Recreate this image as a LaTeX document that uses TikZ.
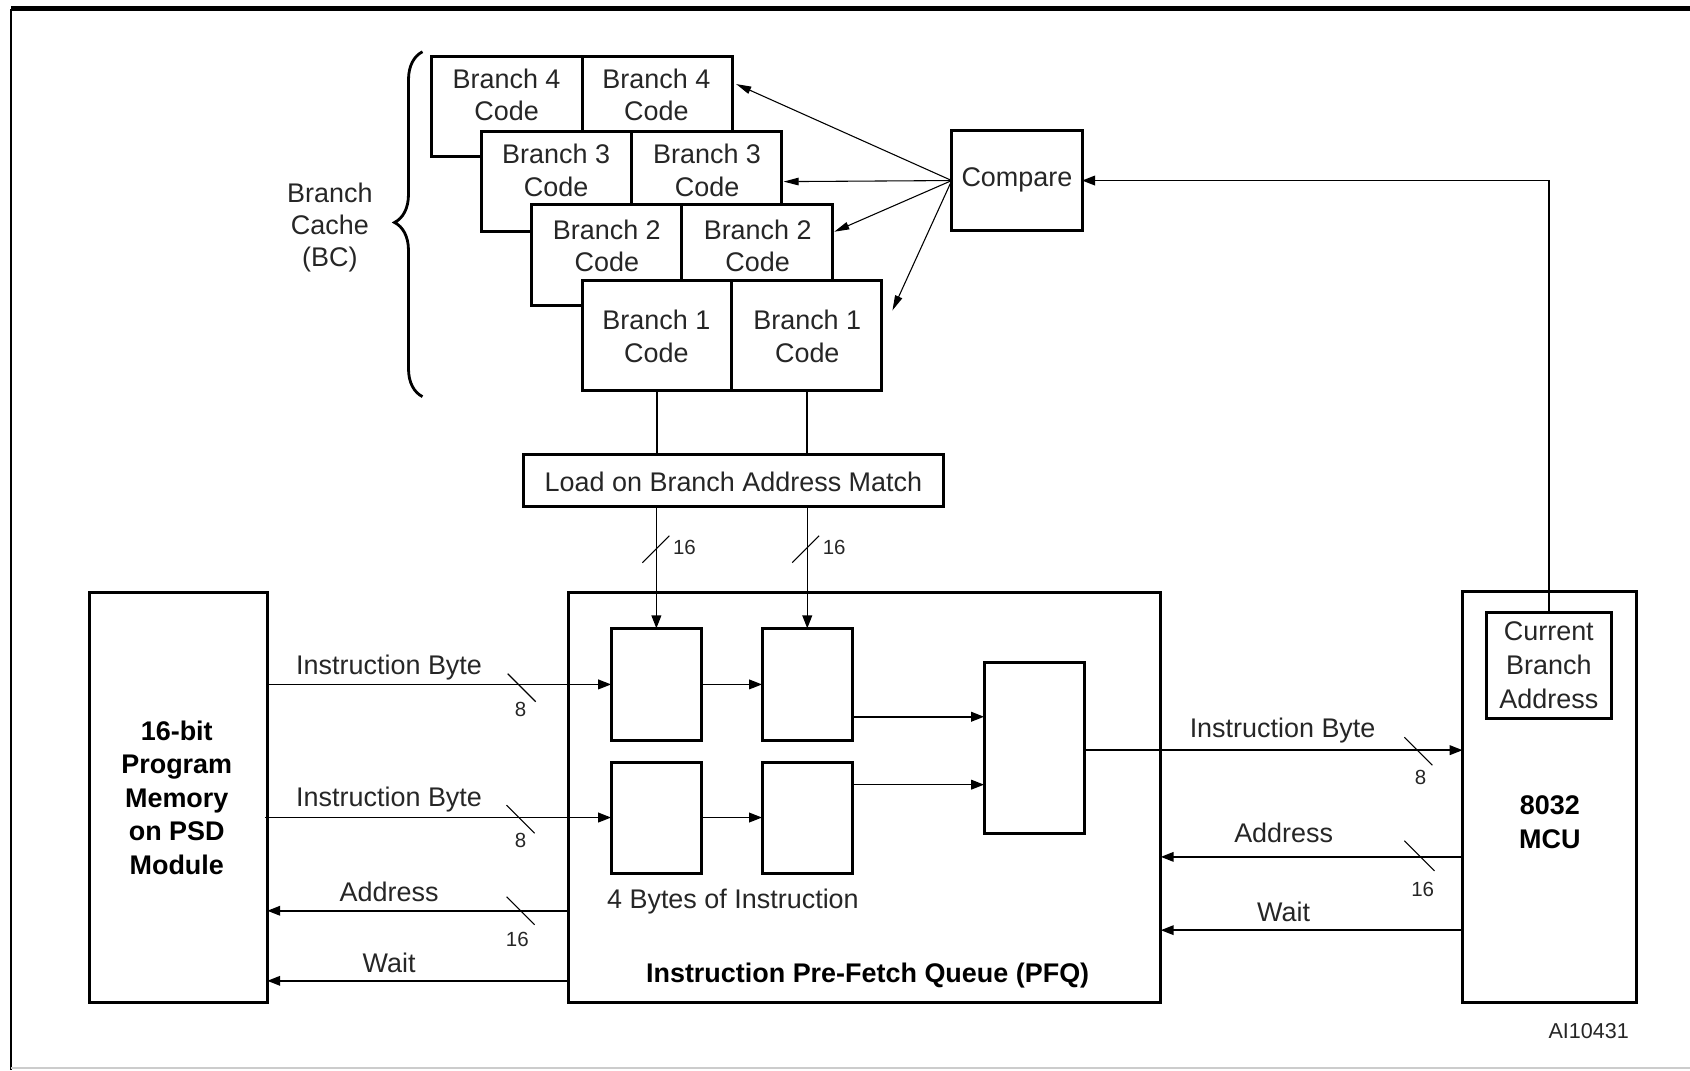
\documentclass[tikz,border=0pt]{standalone}
\usepackage{fontspec}
\setmainfont{Liberation Sans}
\usetikzlibrary{arrows.meta,calc,decorations.pathreplacing}
\begin{document}
\begin{tikzpicture}[x=0.5pt,y=-0.5pt,
  box/.style={draw,line width=1.4pt,fill=white,inner sep=0pt,outer sep=0pt},
  txt/.style={font=\fontsize{12.5}{15}\selectfont,align=center,inner sep=0pt,text=black!85},
  btxt/.style={font=\fontsize{12.5}{15.5}\selectfont\bfseries,align=center,inner sep=0pt},
  small/.style={font=\fontsize{9.5}{11}\selectfont,inner sep=0pt,text=black!85},
  conn/.style={line width=0.7pt},
  arr/.style={conn,-{Triangle[length=6pt,width=4.5pt]}},
  fan/.style={line width=0.5pt,-{Triangle[length=7pt,width=3.5pt]}},
  bar/.style={line width=0.5pt},
]
\useasboundingbox (0,0) rectangle (1568,993);
% frame
\draw[line width=2.4pt] (10,8) -- (1568,8);
\draw[line width=1pt] (10,8) -- (10,993);
\draw[line width=1pt,gray!40] (10,991) -- (1568,991);

% branch cache cells
\node[box,anchor=north west,minimum width=70pt,minimum height=46.5pt] (b4l) at (400,52) {};
\node[box,anchor=north west,minimum width=70pt,minimum height=46.5pt] (b4r) at (540,52) {};
\node[box,anchor=north west,minimum width=69.5pt,minimum height=46.5pt] (b3l) at (447,122) {};
\node[box,anchor=north west,minimum width=69.5pt,minimum height=46.5pt] (b3r) at (586,122) {};
\node[box,anchor=north west,minimum width=69.5pt,minimum height=46.5pt] (b2l) at (493,190) {};
\node[box,anchor=north west,minimum width=70pt,minimum height=46.5pt] (b2r) at (632,190) {};
\node[box,anchor=north west,minimum width=69.5pt,minimum height=51pt] (b1l) at (540,260) {};
\node[box,anchor=north west,minimum width=69.5pt,minimum height=51pt] (b1r) at (679,260) {};

\node[txt] (t4l) at (470,88) {Branch 4\\Code};
\node[txt] (t4r) at (609,88) {Branch 4\\Code};
\node[txt] (t3l) at (516,158) {Branch 3\\Code};
\node[txt] (t3r) at (656,158) {Branch 3\\Code};
\node[txt] (t2l) at (563,228) {Branch 2\\Code};
\node[txt] (t2r) at (703,228) {Branch 2\\Code};
\node[txt] (t1l) at (609,312) {Branch 1\\Code};
\node[txt] (t1r) at (749,312) {Branch 1\\Code};

% brace and label
\draw[line width=1.3pt,decorate,decoration={brace,amplitude=13pt,aspect=0.505}] (392,368) -- (392,48);
\node[txt] (bc) at (306,211) {Branch\\Cache\\(BC)};

% compare
\node[box,minimum width=60.5pt,minimum height=46.5pt] (cmp) at (943.5,167.5) {};
\node[txt] (cmpt) at (943.5,167) {Compare};
\coordinate (f4) at ($(b4r.north east)+(3,26)$);
\coordinate (f3) at ($(b3r.east)+(2,0)$);
\coordinate (f2) at ($(b2r.north east)+(2,25)$);
\coordinate (f1) at ($(b1r.north east)+(10,28)$);
\draw[fan] (cmp.west) -- (f4);
\draw[fan] (cmp.west) -- (f3);
\draw[fan] (cmp.west) -- (f2);
\draw[fan] (cmp.west) -- (f1);

% load
\node[box,minimum width=194.5pt,minimum height=24pt] (load) at (680.5,446) {};
\node[txt] (loadt) at (680.5,447) {Load on Branch Address Match};

% PFQ
\node[box,minimum width=275pt,minimum height=190pt] (pfq) at (802,740) {};
\node[box,minimum width=42pt,minimum height=52pt] (q1) at (609,635) {};
\node[box,minimum width=42pt,minimum height=52pt] (q2) at (749,635) {};
\node[box,minimum width=42pt,minimum height=51.5pt] (q3) at (609,758.5) {};
\node[box,minimum width=42pt,minimum height=51.5pt] (q4) at (749,758.5) {};
\node[box,minimum width=46.5pt,minimum height=79pt] (out) at (959.5,694) {};
\node[txt] (bytes) at (680,836) {4 Bytes of Instruction};
\node[btxt] (pfqt) at (805,905) {Instruction Pre-Fetch Queue (PFQ)};

% memory
\node[box,minimum width=82.5pt,minimum height=190pt] (mem) at (165.5,740) {};
\node[btxt] (memt) at (164,740) {16-bit\\Program\\Memory\\on PSD\\Module};

% MCU
\node[box,minimum width=80.5pt,minimum height=190.5pt] (mcu) at (1437.5,739.5) {};
\node[box,minimum width=58pt,minimum height=49.5pt] (cba) at (1437,617.5) {};
\node[txt,font=\fontsize{12.5}{15.75}\selectfont] (cbat) at (1437,617) {Current\\Branch\\Address};
\node[btxt] (mcut) at (1438,763) {8032\\MCU};

% branch 1 to load to queue
\draw[conn] (b1l.south) -- (b1l.south |- load.north);
\draw[conn] (b1r.south) -- (b1r.south |- load.north);
\draw[arr] (q1.north |- load.south) -- (q1.north);
\draw[arr] (q2.north |- load.south) -- (q2.north);
\coordinate (s1) at (609,510);
\coordinate (s2) at (748,510);
\draw[bar] ($(s1)+(-13,12)$) -- ($(s1)+(12,-13)$);
\draw[bar] ($(s2)+(-13,12)$) -- ($(s2)+(12,-13)$);
\node[small] (l1) at ($(s1)+(26,-2)$) {16};
\node[small] (l2) at ($(s2)+(26,-2)$) {16};

% compare feedback
\draw[arr] (cba.north) |- (cmp.east);

% memory <-> PFQ
\coordinate (m2) at ($(mem.east)+(-2,0)$);
\coordinate (pa) at ($(pfq.west)+(0,105)$);
\coordinate (pw) at ($(pfq.west)+(0,170)$);
\draw[arr] (mem.east |- q1.west) -- (q1.west);
\draw[arr] (m2 |- q3.west) -- (q3.west);
\draw[arr] (pa) -- (pa -| mem.east);
\draw[arr] (pw) -- (pw -| mem.east);
\node[txt] (ib1) at (361,619) {Instruction Byte};
\node[txt] (ib2) at (361,742) {Instruction Byte};
\node[txt] (ad1) at (361,827) {Address};
\node[txt] (wt1) at (361,893) {Wait};
\coordinate (s3) at (484,638);
\coordinate (s4) at (483,760);
\coordinate (s5) at (483,845);
\draw[bar] ($(s3)+(-13,-13)$) -- ($(s3)+(13,13)$);
\draw[bar] ($(s4)+(-13,-13)$) -- ($(s4)+(13,13)$);
\draw[bar] ($(s5)+(-13,-13)$) -- ($(s5)+(13,13)$);
\node[small] (l3) at (483,658) {8};
\node[small] (l4) at (483,780) {8};
\node[small] (l5) at (480,872) {16};

% queue internal
\coordinate (o1) at ($(q2.east)+(0,30)$);
\coordinate (o2) at ($(q4.east)+(0,-30.5)$);
\draw[arr] (q1.east) -- (q2.west);
\draw[arr] (q3.east) -- (q4.west);
\draw[arr] (o1) -- (o1 -| out.west);
\draw[arr] (o2) -- (o2 -| out.west);

% PFQ <-> MCU
\coordinate (oi) at ($(out.east)+(0,2)$);
\coordinate (ma) at ($(mcu.west)+(0,55.5)$);
\coordinate (mw) at ($(mcu.west)+(0,123.5)$);
\draw[arr] (oi) -- (oi -| mcu.west);
\draw[arr] (ma) -- (ma -| pfq.east);
\draw[arr] (mw) -- (mw -| pfq.east);
\node[txt] (ib3) at (1190,678) {Instruction Byte};
\node[txt] (ad2) at (1191,773) {Address};
\node[txt] (wt2) at (1191,846) {Wait};
\coordinate (s6) at (1316,697);
\coordinate (s7) at (1317,794);
\draw[bar] ($(s6)+(-13,-13)$) -- ($(s6)+(13,13)$);
\draw[bar] ($(s7)+(-14,-14)$) -- ($(s7)+(14,14)$);
\node[small] (l6) at (1318,721) {8};
\node[small] (l7) at (1320,825) {16};

\node[small,font=\fontsize{10}{12}\selectfont] (ai) at (1474,957) {AI10431};
\end{tikzpicture}
\end{document}
